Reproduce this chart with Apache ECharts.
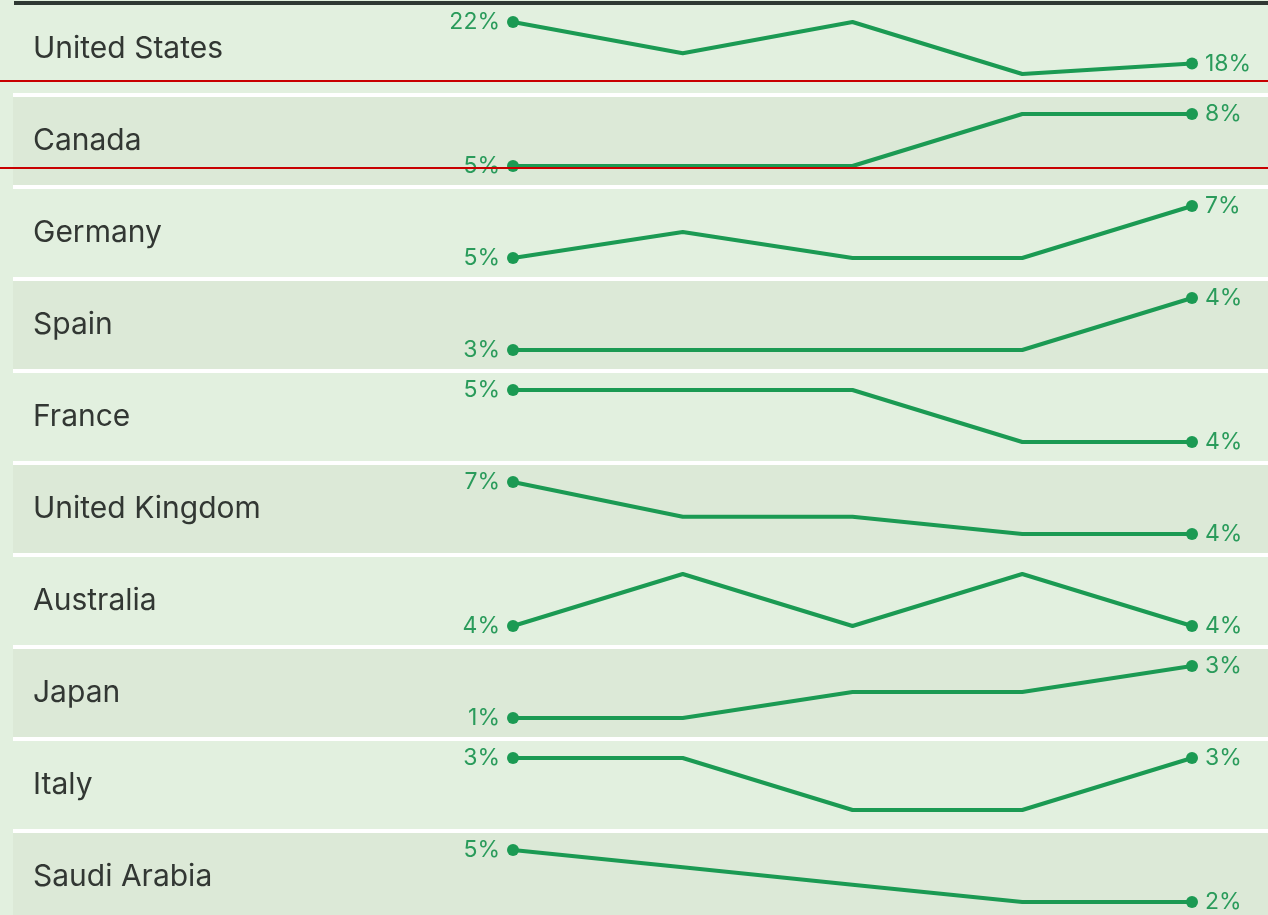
<!DOCTYPE html>
<html>
<head>
<meta charset="utf-8">
<script src="https://cdn.jsdelivr.net/npm/echarts@6/dist/echarts.min.js"></script>
<style>
html,body{margin:0;padding:0;background:#e2f0df;}
#c{width:1268px;height:915px;}
</style>
</head>
<body>
<div id="c"></div>
<script>
const countries = ['United States','Canada','Germany','Spain','France','United Kingdom','Australia','Japan','Italy','Saudi Arabia'];
const periods = ['P1','P2','P3','P4','P5'];
const usValues = [22,19,22,17,18];
const canadaValues = [5,5,5,8,8];
const germanyValues = [5,6,5,5,7];
const spainValues = [3,3,3,3,4];
const franceValues = [5,5,5,4,4];
const ukValues = [7,5,5,4,4];
const australiaValues = [4,5,4,5,4];
const japanValues = [1,1,2,2,3];
const italyValues = [3,3,2,2,3];
const saudiValues = [5,4,3,2,2];
const allValues = [usValues,canadaValues,germanyValues,spainValues,franceValues,ukValues,australiaValues,japanValues,italyValues,saudiValues];

const W = 1268, H = 915;
const PITCH = 92, ROW0 = 5;
const GREEN = '#1b9a53', LABEL = '#2a9b5b';
const FONT = 'Inter, "Noto Sans", sans-serif';

const grids = [], xAxes = [], yAxes = [], series = [], graphics = [];

countries.forEach((c, i) => {
  const top = ROW0 + PITCH * i;
  graphics.push({type:'rect', z:-10, silent:true,
    shape:{x:13, y:top, width:W-13, height:(i===countries.length-1? H-top : PITCH-4)},
    style:{fill: i%2===1 ? '#dce9d7' : '#e2f0df'}});
  if (i < countries.length-1) {
    graphics.push({type:'rect', z:-9, silent:true,
      shape:{x:13, y:top+PITCH-4, width:W-13, height:4},
      style:{fill:'#ffffff'}});
  }
  graphics.push({type:'text', z:5, silent:true, x:33, y: top + 44,
    style:{text:c, fill:'#323733', font:'400 30px ' + FONT, textVerticalAlign:'middle', textAlign:'left'}});
});
graphics.push({type:'rect', z:10, silent:true, shape:{x:14, y:1, width:W-14, height:4}, style:{fill:'#2f3833'}});
graphics.push({type:'rect', z:10, silent:true, shape:{x:0, y:80, width:W, height:2}, style:{fill:'#c80000'}});
graphics.push({type:'rect', z:10, silent:true, shape:{x:0, y:167, width:W, height:2}, style:{fill:'#c80000'}});

allValues.forEach((vals, i) => {
  const top = ROW0 + PITCH * i + 17;
  grids.push({left:513, right:W-1192, top: top, height:52});
  xAxes.push({type:'category', gridIndex:i, data:periods, boundaryGap:false, show:false});
  const mn = Math.min(...vals), mx = Math.max(...vals);
  yAxes.push({type:'value', gridIndex:i, min:mn, max:mx, show:false});
  const n = vals.length;
  series.push({
    type:'line', xAxisIndex:i, yAxisIndex:i,
    data: vals.map((v, j) => {
      const item = {value:v};
      if (j === 0) {
        item.symbolSize = 12;
        item.label = {show:true, position:'left', distance:7};
      } else if (j === n-1) {
        item.symbolSize = 12;
        item.label = {show:true, position:'right', distance:7};
      } else {
        item.symbolSize = 0;
        item.label = {show:false};
      }
      return item;
    }),
    symbol:'circle', showSymbol:true,
    lineStyle:{color:GREEN, width:4},
    itemStyle:{color:GREEN},
    label:{formatter: p => p.value + '%', color:LABEL, fontSize:23, fontFamily:FONT},
    animation:false, silent:true
  });
});

const chart = echarts.init(document.getElementById('c'), null, {renderer:'canvas'});
chart.setOption({
  backgroundColor:'#e2f0df',
  animation:false,
  grid: grids, xAxis: xAxes, yAxis: yAxes, series: series,
  graphic: graphics
});
</script>
</body>
</html>
